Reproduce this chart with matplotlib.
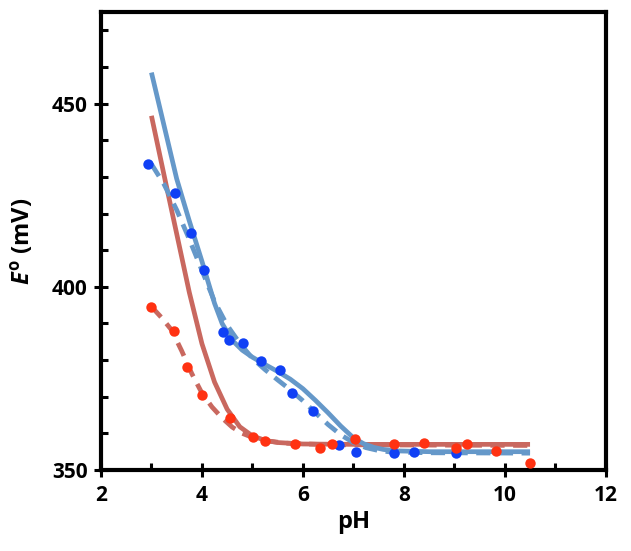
import matplotlib
matplotlib.use("Agg")
import matplotlib.pyplot as plt

# ---- data ----
blue_pts_ph = [2.94, 3.47, 3.79, 4.04, 4.41, 4.54, 4.81, 5.17, 5.54, 5.79, 6.20, 6.72, 7.06, 7.80, 8.20, 9.04]
blue_pts_e = [433.6, 425.6, 414.7, 404.6, 387.8, 385.6, 384.7, 379.8, 377.3, 371.1, 366.0, 356.7, 354.9, 354.7, 355.0, 354.6]

red_pts_ph = [3.00, 3.44, 3.71, 4.01, 4.55, 5.01, 5.25, 5.84, 6.33, 6.58, 7.04, 7.80, 8.40, 9.04, 9.26, 9.83, 10.50]
red_pts_e = [394.6, 388.0, 378.2, 370.6, 364.1, 358.9, 358.0, 357.0, 356.1, 357.2, 358.4, 357.2, 357.3, 356.0, 357.0, 355.1, 351.8]

blue_solid_ph = [3.00, 3.25, 3.50, 3.75, 4.00, 4.25, 4.40, 4.60, 4.80, 5.00, 5.25, 5.50, 5.75, 6.00, 6.25, 6.50, 6.75, 7.00, 7.20, 7.40, 7.60, 7.90, 8.50, 10.50]
blue_solid_e = [458.5, 444.0, 429.5, 418.0, 407.0, 395.5, 390.0, 385.4, 382.7, 380.8, 378.8, 376.9, 374.8, 372.2, 369.0, 365.6, 362.0, 358.8, 357.2, 356.2, 355.6, 355.2, 355.0, 355.0]

blue_dash_ph = [3.00, 3.25, 3.50, 3.75, 4.00, 4.25, 4.50, 4.75, 5.00, 5.25, 5.50, 5.75, 6.00, 6.25, 6.50, 6.75, 7.00, 7.25, 7.50, 7.75, 8.50, 10.50]
blue_dash_e = [433.5, 428.0, 421.0, 413.0, 404.5, 396.0, 389.5, 384.6, 380.5, 377.4, 374.6, 371.9, 368.9, 365.6, 362.4, 359.6, 357.5, 356.1, 355.3, 354.9, 354.7, 354.6]

red_solid_ph = [3.00, 3.25, 3.50, 3.75, 4.00, 4.25, 4.50, 4.75, 5.00, 5.25, 5.50, 6.00, 7.00, 10.50]
red_solid_e = [446.7, 430.5, 414.5, 398.5, 384.5, 374.0, 366.6, 361.8, 359.3, 358.1, 357.5, 357.1, 357.0, 357.0]

red_dash_ph = [3.00, 3.20, 3.40, 3.60, 3.80, 4.00, 4.20, 4.40, 4.60, 4.80, 5.00, 5.30, 5.70, 6.50, 10.50]
red_dash_e = [394.6, 391.6, 388.2, 382.5, 376.3, 371.0, 367.2, 364.2, 361.7, 360.0, 358.9, 357.9, 357.3, 356.9, 356.7]

x_ticks = [2, 4, 6, 8, 10, 12]
y_ticks = [350, 400, 450]

# ---- style ----
plt.rcParams['font.family'] = ['Open Sans', 'DejaVu Sans']
plt.rcParams['mathtext.fontset'] = 'custom'
plt.rcParams['mathtext.it'] = 'Open Sans:bold:italic'
plt.rcParams['mathtext.rm'] = 'Open Sans:bold'
plt.rcParams['mathtext.bf'] = 'Open Sans:bold'

line_blue = '#6598c9'
line_red = '#c9685f'
dot_blue = '#1040f5'
dot_red = '#ff3212'

fig = plt.figure(figsize=(6.31, 5.51), dpi=100)
ax = fig.add_axes([0.160, 0.147, 0.800, 0.831])

lw = 3.4
ax.plot(red_solid_ph, red_solid_e, color=line_red, lw=lw, solid_capstyle='butt', solid_joinstyle='round', zorder=2)
ax.plot(red_dash_ph, red_dash_e, color=line_red, lw=lw, ls=(0, (3.0, 1.8)), zorder=2)
ax.plot(blue_solid_ph, blue_solid_e, color=line_blue, lw=lw, solid_capstyle='butt', solid_joinstyle='round', zorder=2)
ax.plot(blue_dash_ph, blue_dash_e, color=line_blue, lw=lw, ls=(0, (3.0, 1.8)), zorder=2)

ax.plot(blue_pts_ph, blue_pts_e, 'o', color=dot_blue, ms=7.5, mec='none', zorder=3)
ax.plot(red_pts_ph, red_pts_e, 'o', color=dot_red, ms=7.5, mec='none', zorder=3)

ax.set_xlim(2, 12)
ax.set_ylim(350, 475)
ax.set_xticks(x_ticks)
ax.set_yticks(y_ticks)
ax.set_xticks([3, 5, 7, 9, 11], minor=True)
ax.set_yticks([360, 370, 380, 390, 410, 420, 430, 440, 460, 470], minor=True)

for s in ax.spines.values():
    s.set_linewidth(3.0)

ax.tick_params(which='major', direction='inout', length=9.5, width=2.2, labelsize=15)
ax.tick_params(axis='y', which='major', pad=5)
ax.tick_params(axis='x', which='major', pad=6)
ax.tick_params(which='minor', direction='in', length=5, width=2.2)
ax.tick_params(top=False, right=False, which='both')
for lab in ax.get_xticklabels() + ax.get_yticklabels():
    lab.set_fontweight('bold')

ax.set_xlabel('pH', fontsize=17, fontweight='bold')
ax.set_ylabel(r'$E^{\mathrm{o}}$ (mV)', fontsize=17, fontweight='bold')
ax.xaxis.set_label_coords(0.5, -0.087)
ax.yaxis.set_label_coords(-0.129, 0.5)

fig.savefig('out.png', dpi=100)
